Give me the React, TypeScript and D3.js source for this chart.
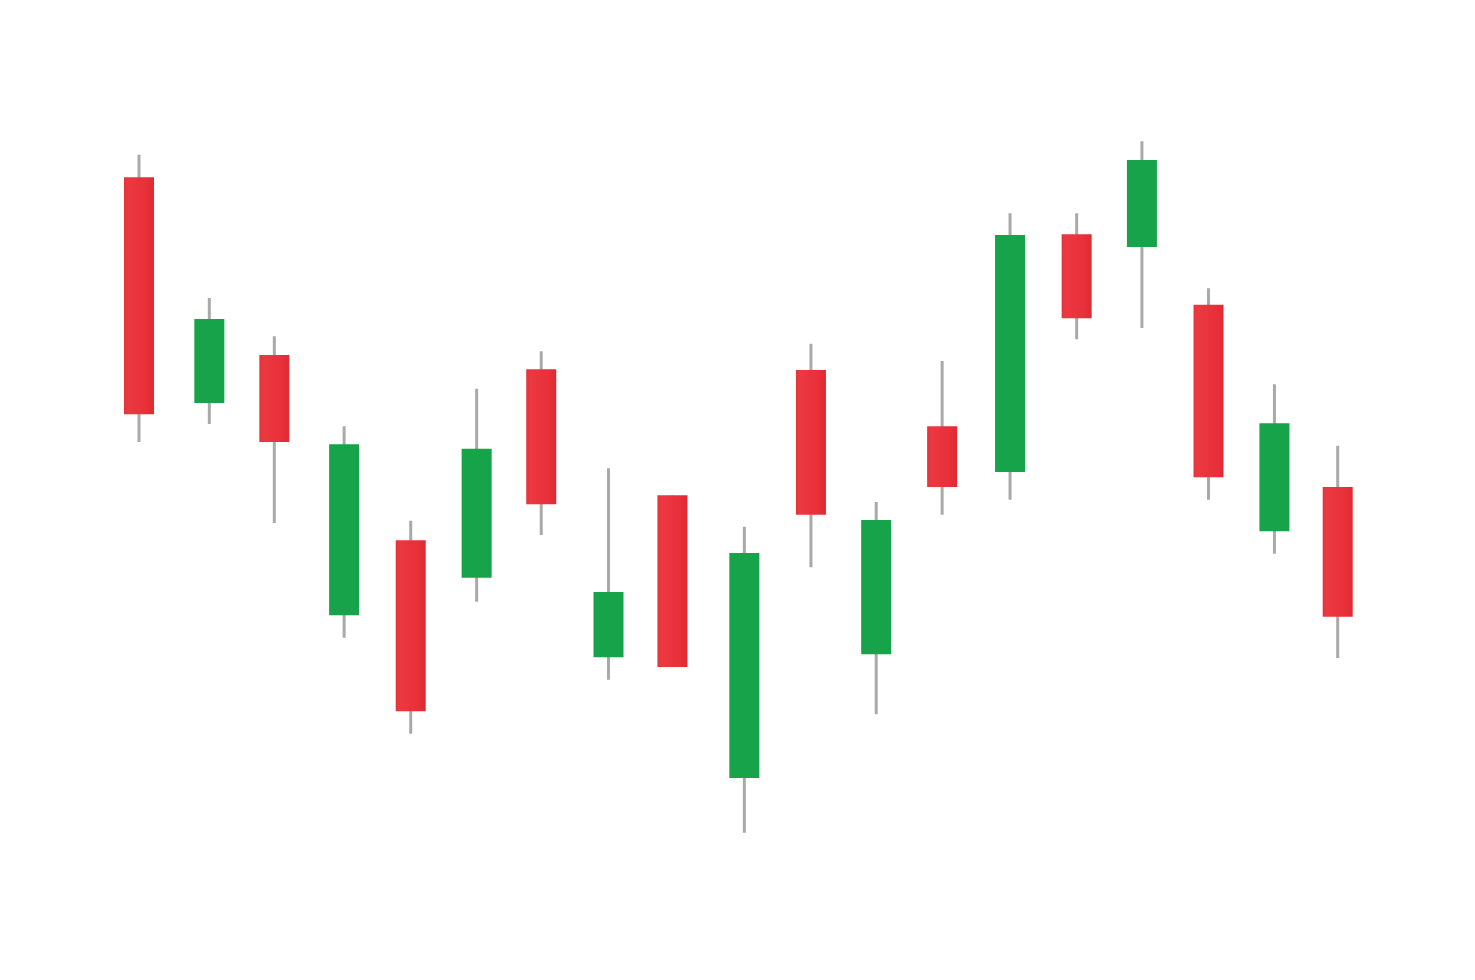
import React from "react";
import * as d3 from "d3";

// session time index of each candle (irregular spacing as in the source)
const sessions = [0, 1.056, 2.032, 3.08, 4.08, 5.07, 6.04, 7.05, 8.01, 9.09, 10.09, 11.07, 12.06, 13.08, 14.08, 15.06, 16.06, 17.05, 18.0];
const openVals = [93.7, 63.6, 70.0, 35.3, 45.3, 40.3, 68.1, 29.7, 51.3, 13.6, 68.0, 30.1, 60.5, 54.4, 86.1, 84.4, 76.7, 46.5, 52.4];
const closeVals = [62.1, 74.8, 58.4, 58.1, 22.5, 57.5, 50.1, 38.4, 28.4, 43.6, 48.7, 48.0, 52.4, 86.0, 74.9, 96.0, 53.7, 60.9, 35.1];
const highVals = [96.7, 77.6, 72.5, 60.5, 47.9, 65.5, 70.5, 54.9, 51.3, 47.1, 71.5, 50.4, 69.2, 88.9, 88.9, 98.5, 78.9, 66.1, 57.9];
const lowVals = [58.4, 60.8, 47.6, 32.3, 19.5, 37.1, 46.0, 26.7, 28.4, 6.3, 41.7, 22.1, 48.7, 50.7, 72.1, 73.6, 50.7, 43.5, 29.6];

export default function App() {
  const W = 1475, H = 980;
  const x = d3.scaleLinear().domain([0, 18]).range([139, 1337.7]);
  const y = d3.scaleLinear().domain([0, 100]).range([880, 130]);
  const bodyW = 30;
  return (
    <svg width={W} height={H} style={{ position: "absolute", left: 0, top: 0, background: "#fff" }}>
      <defs>
        <linearGradient id="redGrad" x1="0" x2="1" y1="0" y2="0">
          <stop offset="0" stopColor="#e6343b" />
          <stop offset="0.15" stopColor="#ec3840" />
          <stop offset="0.7" stopColor="#e8313a" />
          <stop offset="1" stopColor="#e02a31" />
        </linearGradient>
      </defs>
      <rect width={W} height={H} fill="#ffffff" />
      {sessions.map((t, i) => {
        const cx = x(t);
        const o = openVals[i], c = closeVals[i];
        const up = c > o;
        const top = y(Math.max(o, c));
        const bot = y(Math.min(o, c));
        return (
          <g key={i}>
            <line x1={cx} x2={cx} y1={y(highVals[i])} y2={y(lowVals[i])} stroke="#a9a9a9" strokeWidth={3} />
            <rect x={cx - bodyW / 2} y={top} width={bodyW} height={bot - top} fill={up ? "#17a349" : "url(#redGrad)"} />
          </g>
        );
      })}
    </svg>
  );
}
